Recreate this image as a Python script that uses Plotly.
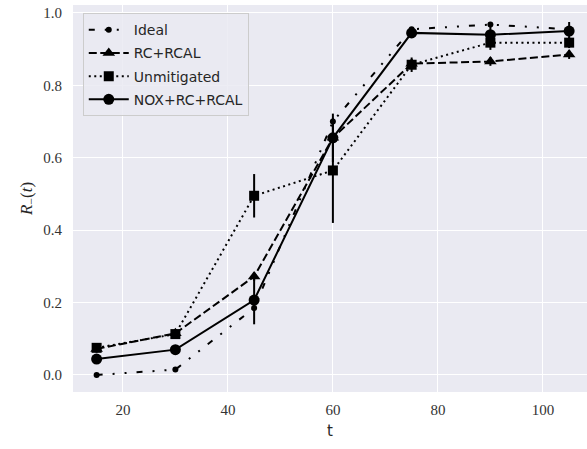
import plotly.graph_objects as go

# Time points and R_-(t) estimates for each mitigation strategy
t = [15, 30, 45, 60, 75, 90, 105]

ideal = [0.0, 0.015, 0.185, 0.70, 0.955, 0.968, 0.955]

rc_rcal = [0.072, 0.115, 0.272, 0.655, 0.860, 0.866, 0.885]
rc_rcal_err = [0.010, 0.010, 0.012, 0.015, 0.012, 0.012, 0.012]

unmitigated = [0.075, 0.113, 0.495, 0.565, 0.857, 0.918, 0.918]
unmitigated_err = [0.012, 0.012, 0.060, 0.145, 0.020, 0.020, 0.015]

nox_rc_rcal = [0.044, 0.070, 0.207, 0.655, 0.945, 0.940, 0.950]
nox_rc_rcal_err = [0.010, 0.010, 0.067, 0.067, 0.012, 0.030, 0.025]

black = "#000000"

fig = go.Figure()

fig.add_trace(go.Scatter(
    x=t, y=ideal, name="Ideal", mode="lines+markers",
    line=dict(color=black, width=2, dash="6px,10px,2px,10px,2px,10px"),
    marker=dict(symbol="circle", size=6, color=black),
    legendgroup="a",
))
fig.add_trace(go.Scatter(
    x=t, y=rc_rcal, name="RC+RCAL", mode="lines+markers",
    line=dict(color=black, width=2, dash="8px,3.5px"),
    marker=dict(symbol="triangle-up", size=11, color=black),
    error_y=dict(type="data", array=rc_rcal_err, color=black, thickness=2, width=0),
    legendgroup="b",
))
fig.add_trace(go.Scatter(
    x=t, y=unmitigated, name="Unmitigated", mode="lines+markers",
    line=dict(color=black, width=2, dash="2px,3.5px"),
    marker=dict(symbol="square", size=10, color=black),
    error_y=dict(type="data", array=unmitigated_err, color=black, thickness=2, width=0),
    legendgroup="c",
))
fig.add_trace(go.Scatter(
    x=t, y=nox_rc_rcal, name="NOX+RC+RCAL", mode="lines+markers",
    line=dict(color=black, width=2),
    marker=dict(symbol="circle", size=11, color=black),
    error_y=dict(type="data", array=nox_rc_rcal_err, color=black, thickness=2, width=0),
    legendgroup="d",
))

tick_font = dict(family="Liberation Serif, DejaVu Serif, serif", size=15, color="#333333")

fig.update_layout(
    width=587, height=449,
    margin=dict(l=73, r=0, t=5, b=57),
    paper_bgcolor="white",
    plot_bgcolor="#EAEAF2",
    showlegend=True,
    legend=dict(
        x=0.019, y=0.979, xanchor="left", yanchor="top",
        bgcolor="rgba(234,234,242,0.85)",
        bordercolor="#cccccc", borderwidth=1,
        font=dict(family="DejaVu Sans, sans-serif", size=14, color="#262626"),
        itemwidth=40,
        tracegroupgap=2,
    ),
    xaxis=dict(
        range=[10.5, 108.4],
        tickmode="array", tickvals=[20, 40, 60, 80, 100],
        ticktext=["20", "40", "60", "80", "100"],
        tickfont=tick_font,
        ticklabelstandoff=7,
        showgrid=True, gridcolor="white", gridwidth=1.3,
        zeroline=False, showline=False, ticks="", ticklen=0,
        title=dict(text="t", font=dict(family="DejaVu Sans, sans-serif", size=15, color="#262626"), standoff=8),
    ),
    yaxis=dict(
        range=[-0.047, 1.022],
        tickmode="array", tickvals=[0.0, 0.2, 0.4, 0.6, 0.8, 1.0],
        ticktext=["0.0", "0.2", "0.4", "0.6", "0.8", "1.0"],
        tickfont=tick_font,
        ticklabelstandoff=10,
        showgrid=True, gridcolor="white", gridwidth=1.3,
        zeroline=False, showline=False, ticks="", ticklen=0,
        title=dict(text="<i>R</i><sub>−</sub>(<i>t</i>)",
                   font=dict(family="Liberation Serif, DejaVu Serif, serif", size=17, color="#262626"),
                   standoff=6),
    ),
)

fig.write_html("out.html")
